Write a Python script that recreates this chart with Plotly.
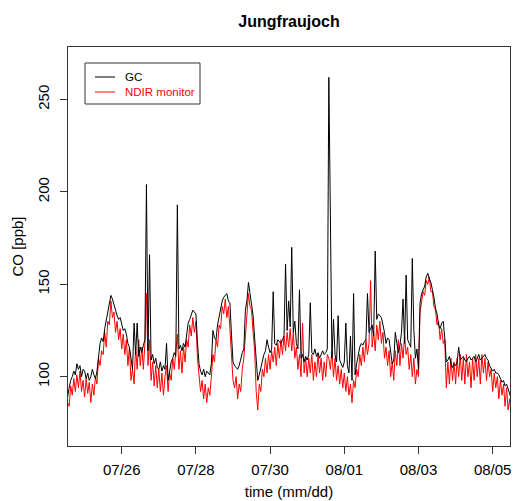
import pandas as pd
import plotly.graph_objects as go

# Hourly values starting 2009-07-24 12:00
start_time = "2009-07-24 12:00"

gc_ppb = [
    88, 89, 94, 98, 100, 103, 101, 107, 104, 106, 100, 104,
    103, 99, 102, 98, 100, 104, 101, 99, 103, 112, 118, 121,
    119, 126, 131, 136, 141, 144, 142, 138, 136, 133, 131, 132,
    128, 125, 126, 123, 118, 116, 110, 104, 129, 112, 129, 111,
    116, 113, 117, 120, 204, 114, 166, 109, 112, 107, 110, 105,
    104, 108, 103, 106, 104, 118, 98, 104, 108, 110, 113, 111,
    193, 115, 117, 114, 118, 116, 123, 129, 131, 134, 136, 135,
    134, 119, 107, 103, 101, 104, 100, 103, 102, 101, 107, 125,
    121, 120, 128, 132, 137, 141, 143, 144, 145, 141, 140, 123,
    108, 106, 105, 104, 106, 110, 113, 115, 136, 141, 151, 145,
    139, 133, 121, 110, 98, 101, 105, 108, 112, 114, 120, 116,
    113, 115, 146, 118, 117, 120, 119, 118, 120, 122, 161, 125,
    141, 127, 170, 124, 130, 118, 115, 147, 110, 112, 108, 111,
    109, 112, 140, 113, 112, 115, 111, 113, 110, 112, 114, 112,
    113, 115, 262, 187, 110, 131, 112, 108, 133, 109, 107, 105,
    108, 129, 106, 102, 122, 98, 145, 101, 107, 112, 116, 118,
    117, 119, 120, 145, 124, 126, 128, 122, 168, 131, 134, 133,
    132, 128, 124, 118, 121, 120, 113, 107, 109, 124, 118, 113,
    117, 124, 142, 118, 155, 120, 118, 116, 164, 125, 110, 115,
    104, 140, 145, 147, 149, 154, 156, 153, 151, 147, 143, 137,
    134, 128, 126, 129, 130, 121, 108, 109, 111, 107, 105, 107,
    106, 108, 116, 109, 110, 111, 109, 108, 110, 111, 109, 110,
    111, 108, 110, 112, 109, 110, 111, 112, 110, 109, 106, 104,
    103, 104, 102, 102, 101, 99, 97, 98, 95, 96, 93, 91, 88,
]

ndir_ppb = [
    78, 86, 84, 95, 90, 99, 92, 101, 94, 103, 92, 98,
    89, 99, 91, 97, 86, 96, 90, 100, 96, 110, 106, 114,
    112, 124, 116, 130, 128, 141, 132, 135, 124, 130, 120, 126,
    115, 123, 112, 120, 106, 116, 98, 104, 96, 116, 104, 120,
    106, 116, 104, 118, 145, 106, 120, 98, 108, 95, 106, 94,
    104, 92, 102, 90, 100, 106, 92, 102, 98, 110, 104, 112,
    123, 104, 114, 102, 116, 108, 120, 116, 128, 122, 132, 124,
    130, 110, 100, 92, 98, 88, 96, 86, 94, 90, 100, 112,
    108, 120, 116, 128, 126, 138, 134, 142, 132, 138, 126, 114,
    98, 94, 100, 88, 96, 92, 104, 110, 122, 136, 145, 138,
    136, 124, 114, 92, 82, 96, 92, 104, 100, 110, 102, 112,
    104, 114, 108, 116, 106, 118, 110, 120, 112, 122, 114, 124,
    116, 126, 114, 124, 110, 116, 104, 112, 100, 129, 102, 110,
    100, 110, 102, 112, 98, 108, 100, 112, 102, 110, 98, 108,
    100, 112, 110, 104, 114, 100, 110, 98, 106, 96, 104, 94,
    102, 92, 100, 90, 96, 86, 98, 94, 104, 100, 112, 106,
    116, 108, 120, 112, 118, 152, 116, 124, 114, 128, 120, 130,
    118, 124, 110, 116, 106, 114, 100, 108, 98, 114, 106, 120,
    106, 118, 110, 122, 112, 116, 104, 112, 100, 110, 96, 104,
    100, 135, 142, 146, 144, 152, 150, 154, 146, 146, 138, 136,
    128, 130, 120, 126, 118, 120, 94, 108, 96, 110, 98, 108,
    96, 110, 100, 112, 98, 110, 96, 112, 100, 108, 94, 110,
    98, 112, 100, 110, 96, 112, 102, 110, 98, 108, 100, 104,
    92, 102, 94, 100, 88, 98, 90, 96, 84, 94, 82, 88, 78,
]

x_ticks = ["2009-07-26", "2009-07-28", "2009-07-30", "2009-08-01", "2009-08-03", "2009-08-05"]
x_tick_labels = ["07/26", "07/28", "07/30", "08/01", "08/03", "08/05"]
y_ticks = [100, 150, 200, 250]

t_gc = pd.date_range(start_time, periods=len(gc_ppb), freq="h")
t_ndir = pd.date_range(start_time, periods=len(ndir_ppb), freq="h")

FONT = "Liberation Sans, Arial, sans-serif"

fig = go.Figure()
fig.add_trace(go.Scatter(x=t_ndir, y=ndir_ppb, mode="lines", name="NDIR monitor",
                         line=dict(color="#ff0000", width=1), showlegend=False))
fig.add_trace(go.Scatter(x=t_gc, y=gc_ppb, mode="lines", name="GC",
                         line=dict(color="#000000", width=1), showlegend=False))

# legend drawn manually (R style)
L, T, R_, B = 68, 47, 510, 446
W, H = float(R_ - L), float(B - T)
def px(x):
    return (x - L) / W
def py(y):
    return (B - y) / H

shapes = [
    dict(type="rect", xref="paper", yref="paper", x0=px(85), x1=px(200), y0=py(104), y1=py(63),
         line=dict(color="#333333", width=1), fillcolor="white", layer="above"),
    dict(type="line", xref="paper", yref="paper", x0=px(95), x1=px(115), y0=py(77), y1=py(77),
         line=dict(color="#000000", width=1), layer="above"),
    dict(type="line", xref="paper", yref="paper", x0=px(95), x1=px(115), y0=py(92), y1=py(92),
         line=dict(color="#ff0000", width=1), layer="above"),
]
annotations = [
    dict(xref="paper", yref="paper", x=px(123), y=py(77), text="GC", showarrow=False,
         xanchor="left", yanchor="middle", font=dict(family=FONT, size=11.5, color="#000000")),
    dict(xref="paper", yref="paper", x=px(123), y=py(92), text="NDIR monitor", showarrow=False,
         xanchor="left", yanchor="middle", font=dict(family=FONT, size=11.5, color="#ff0000")),
]

fig.update_layout(
    width=513, height=501,
    margin=dict(l=L, r=513 - R_, t=T, b=501 - B, autoexpand=False),
    paper_bgcolor="white", plot_bgcolor="white",
    font=dict(family=FONT, size=15, color="#000000"),
    title=dict(text="<b>Jungfraujoch</b>", x=(L + W / 2) / 513, xanchor="center",
               y=1 - 21 / 501, yanchor="middle", yref="container",
               font=dict(family=FONT, size=16, color="#000000")),
    shapes=shapes, annotations=annotations,
    showlegend=False,
)
fig.update_xaxes(
    range=["2009-07-24 13:15", "2009-08-05 11:12"],
    tickvals=x_ticks, ticktext=x_tick_labels,
    ticks="outside", ticklen=7, tickwidth=1, tickcolor="#333333",
    ticklabelstandoff=3,
    showline=True, linecolor="#333333", linewidth=1, mirror=True,
    showgrid=False, zeroline=False,
    tickfont=dict(family=FONT, size=15),
    title=dict(text="time (mm/dd)", font=dict(family=FONT, size=15), standoff=9),
)
fig.update_yaxes(
    range=[62.5, 278.4],
    tickvals=y_ticks,
    ticks="outside", ticklen=7, tickwidth=1, tickcolor="#333333",
    tickangle=-90, ticklabelstandoff=5,
    showline=True, linecolor="#333333", linewidth=1, mirror=True,
    showgrid=False, zeroline=False,
    tickfont=dict(family=FONT, size=15),
    title=dict(text="CO [ppb]", font=dict(family=FONT, size=15), standoff=7),
)

fig.write_html("out.html", config={"displayModeBar": False},
               post_script="document.body.style.margin='0px';")
